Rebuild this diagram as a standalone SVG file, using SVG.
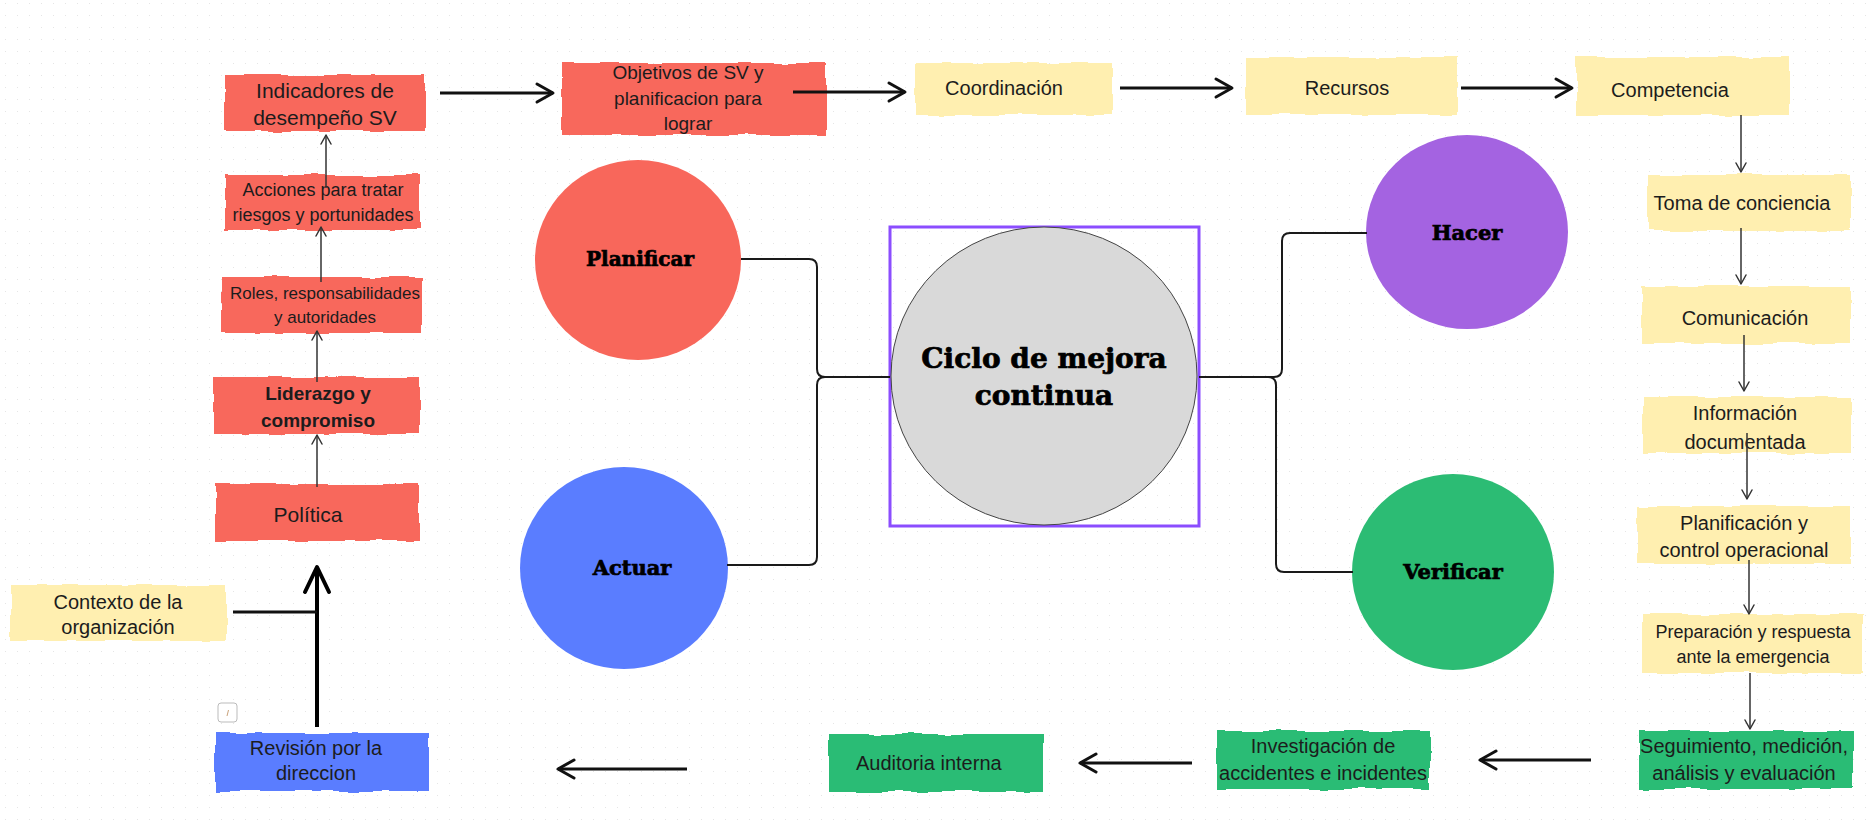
<svg xmlns="http://www.w3.org/2000/svg" width="1873" height="827" viewBox="0 0 1873 827">
<style>
  .t { font-family: "Liberation Sans", Arial, sans-serif; fill: #1c1c1c; text-anchor: middle; }
  .b { font-weight: bold; }
  .c { font-family: "DejaVu Serif", "Liberation Serif", serif; font-weight: bold; fill: #000; stroke: #000; stroke-width: 0.7; text-anchor: middle; }
  .box { filter: url(#rough); }
  .red { fill: #F8675B; }
  .yel { fill: #FFEFB0; }
  .grn { fill: #2CBC74; }
  .blu { fill: #5A7DFF; }
  .thick { stroke: #111; stroke-width: 3; fill: none; marker-end: url(#ahMed); }
  .thin { stroke: #333; stroke-width: 1.5; fill: none; marker-end: url(#ahThin); }
  .bracket { stroke: #1a1a1a; stroke-width: 2; fill: none; }
</style>
<defs>
  <pattern id="dots" x="5" y="3" width="12" height="12" patternUnits="userSpaceOnUse">
    <circle cx="0" cy="0" r="1" fill="#dcdcdc"/>
  </pattern>
  <filter id="rough" x="-5%" y="-15%" width="110%" height="130%">
    <feTurbulence type="fractalNoise" baseFrequency="0.03" numOctaves="2" seed="4" result="n"/>
    <feDisplacementMap in="SourceGraphic" in2="n" scale="6" xChannelSelector="R" yChannelSelector="G"/>
  </filter>
  <marker id="ahMed" viewBox="-20 -12 24 24" refX="0" refY="0" markerWidth="24" markerHeight="24" markerUnits="userSpaceOnUse" orient="auto">
    <path d="M-16,-9 L0,0 L-16,9" fill="none" stroke="#111" stroke-width="3" stroke-linecap="round" stroke-linejoin="round"/>
  </marker>
  <marker id="ahThin" viewBox="-12 -8 14 16" refX="0" refY="0" markerWidth="14" markerHeight="16" markerUnits="userSpaceOnUse" orient="auto">
    <path d="M-9,-5 L0,0 L-9,5" fill="none" stroke="#333" stroke-width="1.5" stroke-linecap="round" stroke-linejoin="round"/>
  </marker>
  <marker id="ahBig" viewBox="-30 -16 34 32" refX="0" refY="0" markerWidth="34" markerHeight="32" markerUnits="userSpaceOnUse" orient="auto">
    <path d="M-25,-12 L0,0 L-25,12" fill="none" stroke="#000" stroke-width="4" stroke-linecap="round" stroke-linejoin="round"/>
  </marker>
</defs>

<rect x="0" y="0" width="1873" height="827" fill="#fff"/>
<rect x="0" y="0" width="1873" height="827" fill="url(#dots)"/>

<!-- Left column -->
<g id="indicadores">
  <rect class="box red" x="225" y="75" width="201" height="56"/>
  <text class="t" font-size="21" x="325" y="98">Indicadores de</text>
  <text class="t" font-size="21" x="325" y="125">desempeño SV</text>
</g>
<g id="acciones">
  <rect class="box red" x="225" y="175" width="195" height="55"/>
  <text class="t" font-size="18" x="323" y="196">Acciones para tratar</text>
  <text class="t" font-size="18" x="323" y="221">riesgos y portunidades</text>
</g>
<g id="roles">
  <rect class="box red" x="221" y="277" width="201" height="56"/>
  <text class="t" font-size="17" x="325" y="299">Roles, responsabilidades</text>
  <text class="t" font-size="17" x="325" y="323">y autoridades</text>
</g>
<g id="liderazgo">
  <rect class="box red" x="214" y="377" width="205" height="57"/>
  <text class="t b" font-size="19" x="318" y="400">Liderazgo y</text>
  <text class="t b" font-size="19" x="318" y="427">compromiso</text>
</g>
<g id="politica">
  <rect class="box red" x="215" y="484" width="204" height="57"/>
  <text class="t" font-size="21" x="308" y="522">Política</text>
</g>
<g id="contexto">
  <rect class="box yel" x="11" y="585" width="215" height="56"/>
  <text class="t" font-size="20" x="118" y="609">Contexto de la</text>
  <text class="t" font-size="20" x="118" y="634">organización</text>
</g>
<g id="revision">
  <rect class="box blu" x="215" y="733" width="214" height="58"/>
  <text class="t" font-size="20" x="316" y="755">Revisión por la</text>
  <text class="t" font-size="20" x="316" y="780">direccion</text>
</g>
<g id="icono">
  <rect x="218" y="703" width="19" height="19" rx="3" fill="#fff" stroke="#bbb" stroke-width="1"/>
  <line x1="227" y1="716" x2="228.5" y2="710" stroke="#c9a27a" stroke-width="1"/>
</g>

<!-- Top row -->
<g id="objetivos">
  <rect class="box red" x="562" y="63" width="264" height="72"/>
  <text class="t" font-size="19" x="688" y="79">Objetivos de SV y</text>
  <text class="t" font-size="19" x="688" y="105">planificacion para</text>
  <text class="t" font-size="19" x="688" y="130">lograr</text>
</g>
<g id="coordinacion">
  <rect class="box yel" x="915" y="63" width="197" height="52"/>
  <text class="t" font-size="20" x="1004" y="95">Coordinación</text>
</g>
<g id="recursos">
  <rect class="box yel" x="1246" y="57" width="212" height="57"/>
  <text class="t" font-size="20" x="1347" y="95">Recursos</text>
</g>
<g id="competencia">
  <rect class="box yel" x="1576" y="57" width="214" height="58"/>
  <text class="t" font-size="20" x="1670" y="97">Competencia</text>
</g>

<!-- Right column -->
<g id="toma">
  <rect class="box yel" x="1647" y="175" width="204" height="56"/>
  <text class="t" font-size="20" x="1742" y="210">Toma de conciencia</text>
</g>
<g id="comunicacion">
  <rect class="box yel" x="1642" y="286" width="209" height="57"/>
  <text class="t" font-size="20" x="1745" y="325">Comunicación</text>
</g>
<g id="informacion">
  <rect class="box yel" x="1643" y="397" width="208" height="56"/>
  <text class="t" font-size="20" x="1745" y="420">Información</text>
  <text class="t" font-size="20" x="1745" y="449">documentada</text>
</g>
<g id="planificacion">
  <rect class="box yel" x="1638" y="506" width="213" height="58"/>
  <text class="t" font-size="20" x="1744" y="530">Planificación y</text>
  <text class="t" font-size="20" x="1744" y="557">control operacional</text>
</g>
<g id="preparacion">
  <rect class="box yel" x="1642" y="614" width="220" height="59"/>
  <text class="t" font-size="18" x="1753" y="638">Preparación y respuesta</text>
  <text class="t" font-size="18" x="1753" y="663">ante la emergencia</text>
</g>
<g id="seguimiento">
  <rect class="box grn" x="1640" y="731" width="213" height="58"/>
  <text class="t" font-size="20" x="1744" y="753">Seguimiento, medición,</text>
  <text class="t" font-size="20" x="1744" y="780">análisis y evaluación</text>
</g>

<!-- Bottom row -->
<g id="investigacion">
  <rect class="box grn" x="1217" y="731" width="213" height="58"/>
  <text class="t" font-size="20" x="1323" y="753">Investigación de</text>
  <text class="t" font-size="20" x="1323" y="780">accidentes e incidentes</text>
</g>
<g id="auditoria">
  <rect class="box grn" x="829" y="734" width="214" height="58"/>
  <text class="t" font-size="20" x="856" y="770" style="text-anchor:start">Auditoria interna</text>
</g>

<!-- PDCA circles -->
<g id="planificar">
  <ellipse cx="638" cy="260" rx="103" ry="100" fill="#F8675B"/>
  <text class="c" font-size="20" x="640" y="266">Planificar</text>
</g>
<g id="actuar">
  <ellipse cx="624" cy="568" rx="104" ry="101" fill="#5A7DFF"/>
  <text class="c" font-size="21" x="632" y="575">Actuar</text>
</g>
<g id="ciclo">
  <rect x="890" y="227" width="309" height="299" fill="none" stroke="#8B4DFF" stroke-width="3"/>
  <ellipse cx="1044" cy="376" rx="153" ry="149" fill="#D9D9D9" stroke="#444" stroke-width="1"/>
  <text class="c" font-size="28" x="1044" y="368">Ciclo de mejora</text>
  <text class="c" font-size="28" x="1044" y="405">continua</text>
</g>
<g id="hacer">
  <ellipse cx="1467" cy="232" rx="101" ry="97" fill="#A463E1"/>
  <text class="c" font-size="21" x="1467" y="240">Hacer</text>
</g>
<g id="verificar">
  <ellipse cx="1453" cy="572" rx="101" ry="98" fill="#2CBC74"/>
  <text class="c" font-size="21" x="1453" y="579">Verificar</text>
</g>

<!-- Connectors -->
<g id="connectors">
  <path class="thin" d="M317,487 V435"/>
  <path class="thin" d="M317,382 V331"/>
  <path class="thin" d="M321,282 V227"/>
  <path class="thin" d="M326,188 V135"/>
  <path d="M317,727 V567" fill="none" stroke="#000" stroke-width="4" marker-end="url(#ahBig)"/>
  <path d="M233,612 H317" fill="none" stroke="#111" stroke-width="3"/>
  <path class="thick" d="M440,93 H553"/>
  <path class="thick" d="M793,92 H905"/>
  <path class="thick" d="M1120,88 H1232"/>
  <path class="thick" d="M1461,88 H1572"/>
  <path class="thin" d="M1741,115 V172"/>
  <path class="thin" d="M1741,228 V284"/>
  <path class="thin" d="M1744,335 V391"/>
  <path class="thin" d="M1747,433 V499"/>
  <path class="thin" d="M1749,560 V614"/>
  <path class="thin" d="M1750,673 V729"/>
  <path class="thick" d="M1591,760 H1480"/>
  <path class="thick" d="M1192,763 H1080"/>
  <path class="thick" d="M687,769 H558"/>
  <path class="bracket" d="M741,259 H809 Q817,259 817,267 V369 Q817,377 825,377 H890"/>
  <path class="bracket" d="M727,565 H809 Q817,565 817,557 V385 Q817,377 825,377"/>
  <path class="bracket" d="M1199,377 H1274 Q1282,377 1282,369 V241 Q1282,233 1290,233 H1367"/>
  <path class="bracket" d="M1353,572 H1284 Q1276,572 1276,564 V385 Q1276,377 1268,377"/>
</g>
</svg>
